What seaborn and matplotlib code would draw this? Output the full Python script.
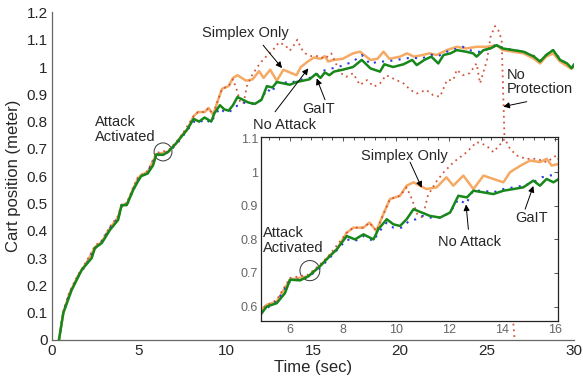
import matplotlib
matplotlib.use("Agg")
import matplotlib.pyplot as plt
import seaborn as sns
import numpy as np
import pandas as pd
from matplotlib.patches import Ellipse
from matplotlib.ticker import MultipleLocator, FuncFormatter

# ---------------- data ----------------
t_galt = [0.4, 0.65, 1.13, 1.7, 2.28, 2.47, 2.86, 3.33, 3.8, 4.0, 4.29, 4.67, 4.93, 5.12, 5.5, 5.81,
          6.0, 6.38, 6.69, 7.13, 7.5, 7.76, 8.14, 8.45, 8.77, 9.15, 9.33, 9.65, 9.9, 10.15, 10.4,
          10.66, 10.97, 11.28, 11.66, 12.04, 12.35, 12.67, 12.92, 13.3, 13.67, 14.05, 14.43, 14.8,
          15.18, 15.43, 15.68, 15.94, 16.2, 16.7, 17.3, 17.8, 18.3, 18.85, 19.1, 19.6, 20.2, 20.7,
          20.96, 21.4, 21.8, 22.2, 22.5, 22.9, 23.26, 23.8, 24.2, 24.4, 24.8, 25.2, 25.55, 25.9,
          26.5, 27.1, 27.7, 28.05, 28.4, 28.8, 29.2, 29.6, 29.87, 30.0]
y_galt = [0.0, 0.099, 0.183, 0.256, 0.30, 0.337, 0.355, 0.403, 0.44, 0.494, 0.494, 0.55, 0.58, 0.60,
          0.61, 0.64, 0.68, 0.678, 0.69, 0.72, 0.75, 0.77, 0.81, 0.80, 0.815, 0.80, 0.83, 0.86, 0.845,
          0.84, 0.86, 0.89, 0.88, 0.87, 0.865, 0.88, 0.93, 0.925, 0.945, 0.94, 0.935, 0.945, 0.95,
          0.955, 0.975, 0.96, 0.98, 0.97, 0.983, 0.99, 1.0, 1.026, 0.995, 0.983, 1.01, 1.0, 1.01,
          1.026, 1.007, 1.026, 1.038, 1.013, 1.044, 1.05, 1.062, 1.056, 1.05, 1.038, 1.062, 1.068,
          1.08, 1.068, 1.062, 1.056, 1.038, 1.02, 1.044, 1.062, 1.026, 1.013, 0.995, 1.01]

t_noatk = [0.4, 0.65, 1.0, 1.5, 2.0, 2.47, 2.86, 3.33, 3.8, 4.0, 4.29, 4.67, 4.93, 5.5, 6.0, 6.69,
           7.13, 7.5, 8.14, 8.45, 8.77, 9.15, 9.33, 9.65, 9.9, 10.2, 10.5, 10.75, 11.0, 11.3, 11.66,
           12.04, 12.35, 12.64, 12.9, 13.3, 13.67, 14.05, 14.43, 14.8, 15.18, 15.5, 15.8, 16.1, 16.7,
           17.3, 17.8, 18.3, 18.7, 19.2, 19.7, 20.2, 20.7, 21.2, 21.8, 22.2, 22.7, 23.2, 23.6, 24.1,
           24.6, 25.2, 25.55, 25.9, 26.5, 27.1, 27.7, 28.05, 28.4, 28.8, 29.2, 29.6, 29.87, 30.0]
y_noatk = [0.0, 0.1, 0.17, 0.232, 0.28, 0.335, 0.36, 0.41, 0.445, 0.49, 0.49, 0.55, 0.585, 0.615,
           0.675, 0.688, 0.715, 0.745, 0.80, 0.795, 0.81, 0.795, 0.82, 0.85, 0.835, 0.835, 0.855,
           0.86, 0.87, 0.865, 0.865, 0.88, 0.92, 0.905, 0.945, 0.945, 0.94, 0.95, 0.955, 0.96, 0.97,
           0.985, 0.99, 0.995, 1.005, 1.02, 1.044, 1.01, 1.02, 1.02, 1.025, 1.03, 1.035, 1.03, 1.045,
           1.04, 1.056, 1.066, 1.074, 1.06, 1.055, 1.07, 1.082, 1.07, 1.062, 1.056, 1.04, 1.022,
           1.044, 1.062, 1.028, 1.013, 0.997, 1.01]

t_simplex = [0.4, 0.65, 1.0, 1.5, 2.0, 2.47, 2.86, 3.33, 3.8, 4.0, 4.29, 4.67, 4.93, 5.12, 5.5, 6.0,
             6.69, 7.13, 7.5, 7.76, 8.14, 8.39, 8.77, 9.0, 9.26, 9.52, 9.77, 10.15, 10.4, 10.66, 10.9,
             11.15, 11.53, 11.9, 12.16, 12.54, 12.92, 13.3, 13.67, 14.05, 14.3, 14.7, 15.06, 15.43,
             15.68, 15.87, 16.2, 16.7, 17.3, 17.7, 18.3, 18.7, 19.05, 19.4, 20.0, 20.4, 20.8, 21.3,
             21.7, 22.1, 22.7, 23.26, 23.8, 24.4, 25.0, 25.55, 25.9, 26.5, 27.1, 27.7, 28.05, 28.4,
             28.8, 29.2, 29.8, 30.0]
y_simplex = [0.0, 0.1, 0.17, 0.235, 0.285, 0.34, 0.36, 0.41, 0.45, 0.495, 0.495, 0.555, 0.59, 0.605,
             0.615, 0.68, 0.69, 0.72, 0.752, 0.77, 0.82, 0.835, 0.835, 0.85, 0.825, 0.875, 0.92,
             0.93, 0.96, 0.97, 0.96, 0.95, 0.955, 0.985, 0.96, 0.99, 0.95, 0.99, 0.98, 0.97, 1.0,
             1.02, 1.035, 1.03, 1.04, 1.02, 1.026, 1.03, 1.05, 1.056, 1.026, 1.03, 1.056, 1.03,
             1.038, 1.05, 1.038, 1.044, 1.05, 1.044, 1.062, 1.074, 1.068, 1.074, 1.074, 1.08, 1.062,
             1.056, 1.05, 1.03, 1.013, 1.038, 1.05, 1.02, 0.995, 1.0]

t_noprot = [0.4, 0.65, 1.0, 1.5, 2.0, 2.47, 2.86, 3.33, 3.8, 4.0, 4.29, 4.67, 4.93, 5.5, 6.0, 6.69,
            7.13, 7.5, 8.14, 8.39, 8.77, 9.0, 9.26, 9.52, 9.77, 10.15, 10.4, 10.6, 10.8, 11.0, 11.2,
            11.5, 11.8, 12.17, 12.67, 13.04, 13.4, 13.67, 13.9, 14.1, 14.3, 14.55, 14.9, 15.3,
            15.68, 16.05, 16.55, 16.9, 17.3, 17.7, 18.1, 18.5, 18.85, 19.2, 19.8, 20.2, 20.6, 20.96,
            21.5, 21.9, 22.3, 22.7, 23.06, 23.26, 23.6, 24.0, 24.4, 24.6, 25.0, 25.2, 25.46, 25.65,
            25.84, 26.0, 26.5, 26.65]
y_noprot = [0.0, 0.105, 0.175, 0.24, 0.29, 0.345, 0.365, 0.415, 0.455, 0.5, 0.5, 0.56, 0.595, 0.62,
            0.685, 0.695, 0.725, 0.755, 0.82, 0.835, 0.835, 0.85, 0.825, 0.875, 0.92, 0.93, 0.955,
            0.92, 0.875, 0.865, 0.93, 0.97, 1.0, 1.03, 1.06, 1.09, 1.08, 1.06, 1.08, 1.1, 1.07,
            1.05, 1.04, 1.04, 1.03, 1.05, 0.98, 0.964, 0.977, 0.934, 0.952, 0.928, 0.94, 0.97,
            0.952, 0.94, 0.916, 0.903, 0.916, 0.897, 0.891, 0.952, 0.952, 0.99, 0.97, 0.977, 1.013,
            0.94, 1.026, 1.11, 1.15, 1.135, 1.1, 0.75, 0.07, -0.05]

main_xticks = [0, 5, 10, 15, 20, 25, 30]
main_yticks = [0, 0.1, 0.2, 0.3, 0.4, 0.5, 0.6, 0.7, 0.8, 0.9, 1.0, 1.1, 1.2]
inset_xticks = [6, 8, 10, 12, 14, 16]
inset_yticks = [0.6, 0.7, 0.8, 0.9, 1.0, 1.1]

series = [
    ("Simplex Only", t_simplex, y_simplex, "#F5A962", "-", 1.8),
    ("No Protection", t_noprot, y_noprot, "#D0573F", (0, (1, 2.2)), 1.3),
    ("No Attack", t_noatk, y_noatk, "#2A3BE0", (0, (1, 3)), 1.5),
    ("GaIT", t_galt, y_galt, "#17871A", "-", 1.8),
]

# ---------------- style ----------------
sns.set_style("white")
plt.rcParams["font.family"] = ["Liberation Sans", "DejaVu Sans"]
plt.rcParams["xtick.direction"] = "in"
plt.rcParams["ytick.direction"] = "in"

fig = plt.figure(figsize=(5.83, 3.82), dpi=100)
ax = fig.add_axes([0.0892, 0.11, 0.8954, 0.8575])
axi = fig.add_axes([0.4477, 0.1597, 0.5094, 0.4817])


def draw(a):
    for name, t, y, c, ls, lw in series:
        df = pd.DataFrame({"t": t, "y": y})
        sns.lineplot(data=df, x="t", y="y", ax=a, color=c, linewidth=lw,
                     linestyle=ls, estimator=None, sort=True)


draw(ax)
draw(axi)

fmt = FuncFormatter(lambda v, p: "%g" % round(v, 2))

# main axes
ax.set_xlim(0, 30)
ax.set_ylim(0, 1.2)
ax.set_xticks(main_xticks)
ax.set_yticks(main_yticks)
ax.xaxis.set_major_formatter(fmt)
ax.yaxis.set_major_formatter(fmt)
ax.tick_params(labelsize=11, length=4, width=0.8, color="#666666", pad=3)
for s in ["top", "right"]:
    ax.spines[s].set_visible(False)
for s in ["left", "bottom"]:
    ax.spines[s].set_color("#666666")
    ax.spines[s].set_linewidth(0.9)
ax.set_xlabel("Time (sec)", fontsize=12, labelpad=1)
ax.set_ylabel("Cart position (meter)", fontsize=12, labelpad=4)

# inset axes
axi.set_xlim(4.906, 16.11)
axi.set_ylim(0.557, 1.105)
axi.set_xticks(inset_xticks)
axi.set_yticks(inset_yticks)
axi.xaxis.set_minor_locator(MultipleLocator(0.4))
axi.xaxis.set_major_formatter(fmt)
axi.yaxis.set_major_formatter(fmt)
axi.tick_params(which="both", top=True, right=True, labelsize=9, labelcolor="#666666",
                length=3, width=0.6, color="#333333", pad=2)
axi.tick_params(which="minor", length=2)
axi.set_xlabel("")
axi.set_ylabel("")
for s in axi.spines.values():
    s.set_color("#222222")
    s.set_linewidth(0.9)
axi.set_facecolor("white")

akw = dict(arrowstyle="-|>", color="black", lw=0.7, mutation_scale=9, shrinkA=0, shrinkB=0)
tfs = 10.5

# main annotations
ax.text(11.09, 1.125, "Simplex Only", fontsize=tfs, ha="center", va="center")
ax.annotate("", xy=(13.22, 0.996), xytext=(12.13, 1.08), arrowprops=akw)
ax.text(13.35, 0.787, "No Attack", fontsize=tfs, ha="center", va="center")
ax.annotate("", xy=(14.73, 0.995), xytext=(12.82, 0.836), arrowprops=akw)
ax.text(15.3, 0.848, "GaIT", fontsize=tfs, ha="center", va="center")
ax.annotate("", xy=(15.21, 0.958), xytext=(15.69, 0.880), arrowprops=akw)
ax.text(2.47, 0.771, "Attack\nActivated", fontsize=tfs, ha="left", va="center", linespacing=1.05)
ax.add_patch(Ellipse((6.38, 0.689), 1.03, 0.066, fill=False, ec="#333333", lw=0.7))
ax.text(26.15, 0.945, "No\nProtection", fontsize=tfs, ha="left", va="center", linespacing=1.05)
ax.annotate("", xy=(25.94, 0.855), xytext=(27.28, 0.873), arrowprops=akw)

# inset annotations
axi.text(10.30, 1.048, "Simplex Only", fontsize=tfs, ha="center", va="center")
axi.annotate("", xy=(10.97, 0.954), xytext=(10.53, 1.03), arrowprops=akw)
axi.text(12.79, 0.791, "No Attack", fontsize=tfs, ha="center", va="center")
axi.annotate("", xy=(12.64, 0.904), xytext=(12.73, 0.83), arrowprops=akw)
axi.text(15.13, 0.863, "GaIT", fontsize=tfs, ha="center", va="center")
axi.annotate("", xy=(15.18, 0.959), xytext=(14.87, 0.89), arrowprops=akw)
axi.text(4.98, 0.797, "Attack\nActivated", fontsize=tfs, ha="left", va="center", linespacing=1.05)
axi.add_patch(Ellipse((6.75, 0.707), 0.75, 0.06, fill=False, ec="#333333", lw=0.7))

fig.savefig("out.png", dpi=100)
